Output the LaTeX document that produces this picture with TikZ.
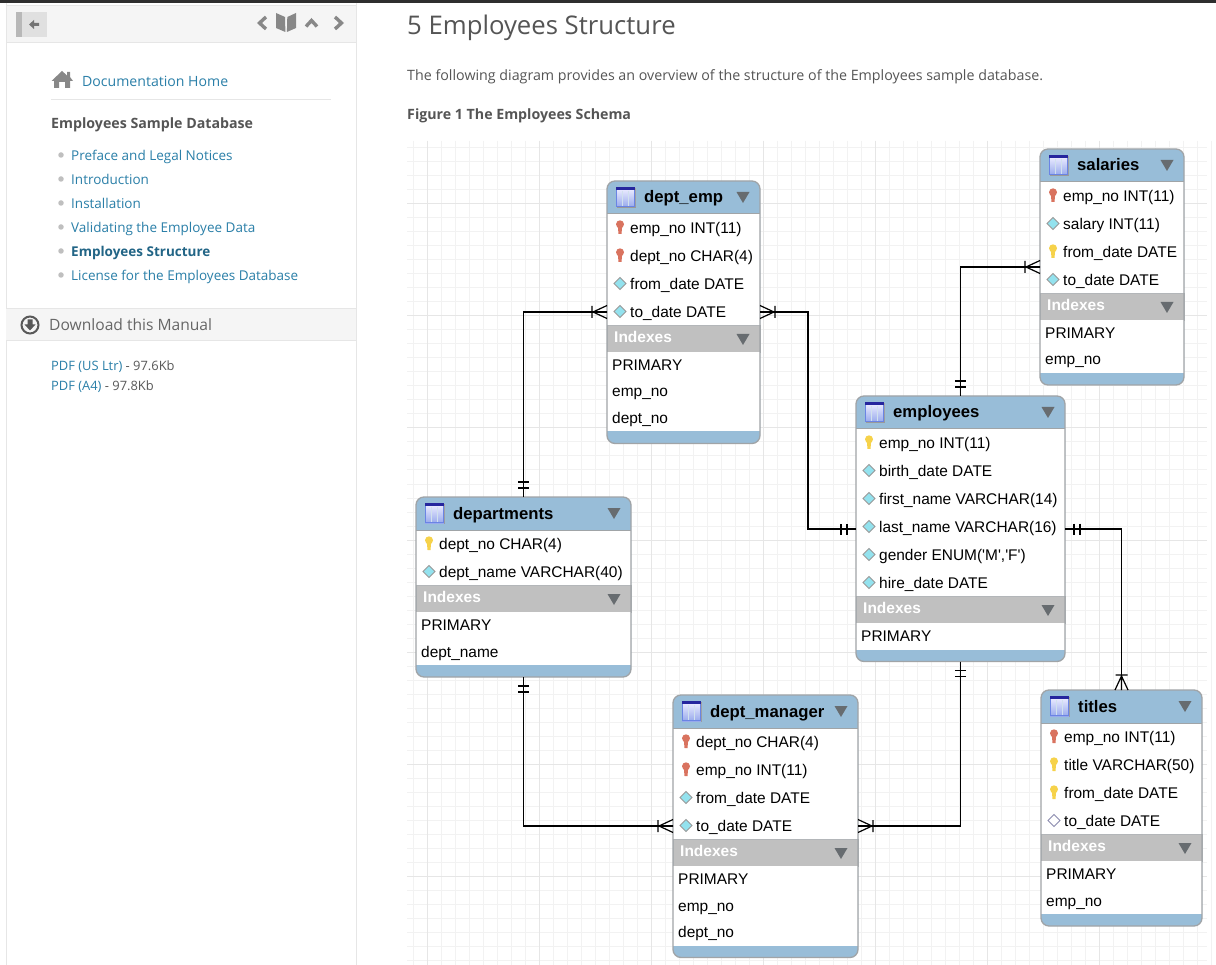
\documentclass[tikz,border=0pt]{standalone}
\usepackage{fontspec}
\newfontfamily\erfont{Liberation Sans}
\newfontfamily\pagefont{Open Sans}
\usetikzlibrary{positioning,calc}
\definecolor{headblue}{HTML}{98BDD8}
\definecolor{framegray}{HTML}{A0A4A7}
\definecolor{bandgray}{HTML}{C0C0C0}
\definecolor{markgray}{HTML}{676C70}
\definecolor{minorgrid}{HTML}{F2F2F2}
\definecolor{majorgrid}{HTML}{E6E6E6}
\definecolor{linkblue}{HTML}{2A7FA8}
\definecolor{pagegray}{HTML}{555555}
\definecolor{icongray}{HTML}{888888}
\definecolor{barpale}{HTML}{F5F5F5}
\definecolor{rulepale}{HTML}{E6E6E6}
\definecolor{keyred}{HTML}{D9735F}
\definecolor{keyyellow}{HTML}{F6D24A}
\definecolor{gemcyan}{HTML}{93E2EE}
\tikzstyle{tablefill} = [fill=headblue, rounded corners=8pt, inner sep=0, outer sep=0, anchor=north west]
\tikzstyle{tableframe} = [draw=framegray, line width=1.3pt, rounded corners=8pt, inner sep=0, outer sep=0, anchor=north west]
\tikzstyle{fieldrow} = [fill=white, inner sep=0, outer sep=0, anchor=north west, minimum height=28pt]
\tikzstyle{indexrow} = [fill=white, inner sep=0, outer sep=0, anchor=north west, minimum height=26.5pt]
\tikzstyle{indexband} = [fill=bandgray, draw=framegray!80, line width=.8pt, inner sep=0, outer sep=0, anchor=north west, minimum height=27pt]
\tikzstyle{titletext} = [anchor=base west, inner sep=0, font=\erfont\bfseries\fontsize{16.7}{19}\selectfont]
\tikzstyle{fieldtext} = [anchor=base west, inner sep=0, font=\erfont\fontsize{15.45}{18}\selectfont]
\tikzstyle{bandtext} = [anchor=base west, inner sep=0, text=white, font=\erfont\bfseries\fontsize{15.5}{17}\selectfont]
\tikzstyle{erline} = [draw=black, line width=1.2pt]
\tikzstyle{navtext} = [anchor=base west, inner sep=0, text=linkblue, font=\pagefont\fontsize{13.5}{17}\selectfont]
\tikzstyle{pagetext} = [anchor=base west, inner sep=0, text=pagegray, font=\pagefont\fontsize{14.25}{17}\selectfont]
\tikzstyle{navdot} = [circle, fill=black!25, inner sep=0, minimum size=5.5pt]
\tikzstyle{navicon} = [draw=icongray, line width=3.4pt, line cap=butt, line join=miter]
\tikzset{
  manyend/.pic={\draw[erline] (0,-6.5) -- (14,0) -- (0,6.5) (0,0) -- (15,0) (15,-6) -- (15,6);},
  oneend/.pic={\draw[erline] (0,0) -- (18,0) (9,-5.5) -- (9,5.5) (15,-5.5) -- (15,5.5);},
  dropmark/.pic={\fill[markgray] (-6.5,-5) -- (6.5,-5) -- (0,6) -- cycle;},
  tableicon/.pic={
    \fill[black!40] (1,1) rectangle (20,21);
    \shade[top color=blue!8!white, bottom color=blue!30!headblue!70!white] (0,2) rectangle (19,20);
    \draw[white!55!headblue, line width=.9pt] (6.3,4) -- (6.3,19) (12.6,4) -- (12.6,19);
    \draw[blue!30!headblue, line width=.6pt] (.3,2) rectangle (18.7,19.7);
    \fill[blue!55!black!85] (0,0) rectangle (19,3);
  },
  redkey/.pic={
    \fill[keyred] (0,-3.2) circle (4);
    \fill[keyred] (-2.3,-3) -- (2.3,-3) -- (1.5,6.5) -- (-1.5,6.5) -- cycle;
  },
  yellowkey/.pic={
    \fill[keyyellow] (0,-3.2) circle (4);
    \fill[keyyellow] (-2.3,-3) -- (2.3,-3) -- (1.5,6.5) -- (-1.5,6.5) -- cycle;
  },
  bluediamond/.pic={\filldraw[fill=gemcyan, draw=black!40, line width=.8pt] (-6,0) -- (0,-6) -- (6,0) -- (0,6) -- cycle;},
  whitediamond/.pic={\filldraw[fill=white, draw=blue!30!black!45, line width=1pt] (-6,0) -- (0,-6) -- (6,0) -- (0,6) -- cycle;}
}
% name, title, x, y, width, number of fields, fields, number of indexes, indexes
\newcommand{\ertable}[9]{
  \pgfmathsetmacro\bandy{#4+32+28*#6}
  \pgfmathsetmacro\boxh{\bandy-#4+39+26.5*#8}
  \node[tablefill, minimum width=#5pt, minimum height=\boxh pt] (#1) at (#3,#4) {};
  \pic at ($(#3,#4)+(9,6)$) {tableicon};
  \node[titletext] (#1-title) at ($(#3,#4)+(37,22)$) {#2};
  \pic at ($(#3,#4)+(#5-17,16)$) {dropmark};
  \foreach \icon/\label [count=\i, evaluate=\i as \rowy using #4+33+28*(\i-1)] in {#7} {
    \node[fieldrow, minimum width=#5pt] (#1-f\i) at (#3,\rowy) {};
    \pic at ($(#3,\rowy)+(13,13.5)$) {\icon};
    \node[fieldtext] (#1-t\i) at ($(#3,\rowy)+(23,19.5)$) {\label};
  }
  \draw[framegray, line width=1pt] (#1-f1.north west) -- (#1-f1.north east);
  \node[indexband, minimum width=#5pt] (#1-band) at (#3,\bandy) {};
  \node[bandtext] (#1-bandtext) at ($(#3,\bandy)+(7,17.5)$) {Indexes};
  \pic at ($(#3,\bandy)+(#5-17,14)$) {dropmark};
  \foreach \label [count=\i, evaluate=\i as \rowy using \bandy+27+26.5*(\i-1)] in {#9} {
    \node[indexrow, minimum width=#5pt] (#1-i\i) at (#3,\rowy) {};
    \node[fieldtext] (#1-x\i) at ($(#3,\rowy)+(5,18.5)$) {\label};
  }
  \node[tableframe, minimum width=#5pt, minimum height=\boxh pt] (#1-frame) at (#3,#4) {};
}
\newcommand{\genderenum}{gender ENUM('M','F')}
\begin{document}
\begin{tikzpicture}[x=1pt, y=-1pt]
    \useasboundingbox (0,0) rectangle (1216,965);
    \fill[white] (0,0) rectangle (1216,965);
    %Sidebar
    \fill[black!82] (0,0) rectangle (1216,3);
    \fill[barpale] (6,6) rectangle (356,42);
    \draw[rulepale, line width=1pt] (6,6) -- (356,6) (6,42.5) -- (356,42.5) (6,3) -- (6,965) (356.5,3) -- (356.5,965);
    \fill[black!12] (16,12) rectangle (47,37);
    \fill[black!28] (16,12) rectangle (22,37);
    \fill[black!55] (29,24.5) -- (34,20) -- (34,23) -- (39,23) -- (39,26) -- (34,26) -- (34,29) -- cycle;
    \draw[navicon] (266,17) -- (259.5,23) -- (266,29);
    \draw[navicon] (306,26.5) -- (311.5,20.5) -- (317,26.5);
    \draw[navicon] (335,17) -- (341.5,23) -- (335,29);
    \fill[icongray] (276,13) -- (285,17) -- (285.4,32) -- (276,28) -- cycle;
    \fill[icongray] (296,13) -- (287.3,17) -- (286.9,32) -- (296,28) -- cycle;
    \fill[icongray] (67,72) -- (70,72) -- (70,77) -- (73,81) -- (70,81) -- (70,88) -- (65,88) -- (65,82) -- (59,82) -- (59,88) -- (54,88) -- (54,81) -- (51.5,81) -- (62,71) -- (67,75.5) -- cycle;
    \node[navtext, font=\pagefont\fontsize{14.1}{17}\selectfont] (home) at (82,87) {Documentation Home};
    \draw[rulepale, line width=1pt] (51,99.5) -- (331,99.5);
    \node[pagetext, font=\pagefont\bfseries\fontsize{14.2}{17}\selectfont] (guide) at (51,129) {Employees Sample Database};
    \foreach \item [count=\i, evaluate=\i as \navy using 131+24*\i] in {Preface and Legal Notices, Introduction, Installation, Validating the Employee Data, {\textcolor{linkblue!80!black}{\bfseries Employees Structure}}, License for the Employees Database} {
        \node[navdot] (dot\i) at (61,\navy) {};
        \node[navtext] (nav\i) at (71,\navy+6) {\item};
    }
    \fill[barpale] (6,309) rectangle (356,340.5);
    \draw[rulepale, line width=1pt] (6,309) -- (356,309) (6,340.5) -- (356,340.5);
    \draw[black!65, line width=2pt] (30,325) circle (8.5);
    \fill[black!65] (27.5,319.5) -- (32.5,319.5) -- (32.5,324.5) -- (35.5,324.5) -- (30,330.5) -- (24.5,324.5) -- (27.5,324.5) -- cycle;
    \node[pagetext, font=\pagefont\fontsize{15.6}{19}\selectfont, text=black!60] (download) at (49,331) {Download this Manual};
    \node[navtext, font=\pagefont\fontsize{12.9}{16}\selectfont] (pdfus) at (51,371) {PDF (US Ltr) \textcolor{black!65}{- 97.6Kb}};
    \node[navtext, font=\pagefont\fontsize{12.9}{16}\selectfont] (pdfa) at (51,391) {PDF (A4) \textcolor{black!65}{- 97.8Kb}};
    %Page text
    \node[pagetext, font=\pagefont\fontsize{25.7}{30}\selectfont] (heading) at (407,35) {5 Employees Structure};
    \node[pagetext] (intro) at (407,81) {The following diagram provides an overview of the structure of the Employees sample database.};
    \node[pagetext, font=\pagefont\bfseries\fontsize{14.2}{17}\selectfont] (caption) at (407,120) {Figure 1 The Employees Schema};
    %Grid
    \foreach \k in {0,...,57} \draw[minorgrid, line width=1pt] (413+14*\k,141) -- (413+14*\k,965);
    \foreach \k in {0,...,58} \draw[minorgrid, line width=1pt] (407,148+14*\k) -- (1207,148+14*\k);
    \foreach \k in {0,...,6} \draw[majorgrid, line width=1pt] (427+112*\k,141) -- (427+112*\k,965);
    \foreach \k in {0,...,6} \draw[majorgrid, line width=1pt] (407,204+112*\k) -- (1207,204+112*\k);
    %Tables
    \ertable{deptemp}{dept\_emp}{607}{181}{153}{4}{redkey/emp\_no INT(11), redkey/dept\_no CHAR(4), bluediamond/from\_date DATE, bluediamond/to\_date DATE}{3}{PRIMARY, emp\_no, dept\_no}
    \ertable{salaries}{salaries}{1040}{149}{144}{4}{redkey/emp\_no INT(11), bluediamond/salary INT(11), yellowkey/from\_date DATE, bluediamond/to\_date DATE}{2}{PRIMARY, emp\_no}
    \ertable{employees}{employees}{856}{396}{209}{6}{yellowkey/emp\_no INT(11), bluediamond/birth\_date DATE, bluediamond/first\_name VARCHAR(14), bluediamond/last\_name VARCHAR(16), bluediamond/\genderenum, bluediamond/hire\_date DATE}{1}{PRIMARY}
    \ertable{departments}{departments}{416}{497}{215}{2}{yellowkey/dept\_no CHAR(4), bluediamond/dept\_name VARCHAR(40)}{2}{PRIMARY, dept\_name}
    \ertable{deptmanager}{dept\_manager}{673}{695}{185}{4}{redkey/dept\_no CHAR(4), redkey/emp\_no INT(11), bluediamond/from\_date DATE, bluediamond/to\_date DATE}{3}{PRIMARY, emp\_no, dept\_no}
    \ertable{titles}{titles}{1041}{690}{161}{4}{redkey/emp\_no INT(11), yellowkey/title VARCHAR(50), yellowkey/from\_date DATE, whitediamond/to\_date DATE}{2}{PRIMARY, emp\_no}
    %Arrows
    \coordinate (lastleft) at ($(employees-f4.west)+(0,2)$);
    \coordinate (lastright) at ($(employees-f4.east)+(0,2)$);
    \draw[erline] (departments.north) |- (deptemp-f4.west);
    \draw[erline] (deptemp-f4.east) -- ++(48,0) |- (lastleft);
    \draw[erline] (employees.north) |- (salaries.west);
    \draw[erline] (lastright) -| (titles.north);
    \draw[erline] (employees.south) |- (deptmanager-f4.east);
    \draw[erline] (departments.south) |- (deptmanager-f4.west);
    %Line ends
    \pic[rotate=90] at (departments.north) {oneend};
    \pic[rotate=180] at (deptemp-f4.west) {manyend};
    \pic at (deptemp-f4.east) {manyend};
    \pic[rotate=180] at (lastleft) {oneend};
    \pic[rotate=90] at (employees.north) {oneend};
    \pic[rotate=180] at (salaries.west) {manyend};
    \pic at (lastright) {oneend};
    \pic[rotate=90] at (titles.north) {manyend};
    \pic[rotate=-90] at (employees.south) {oneend};
    \pic at (deptmanager-f4.east) {manyend};
    \pic[rotate=-90] at (departments.south) {oneend};
    \pic[rotate=180] at (deptmanager-f4.west) {manyend};
\end{tikzpicture}
\end{document}
